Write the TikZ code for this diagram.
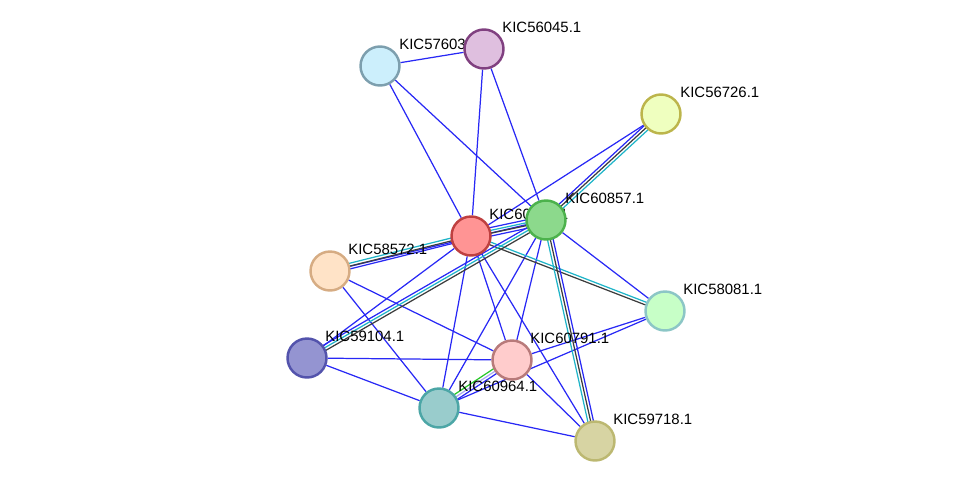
\documentclass[tikz,border=0pt]{standalone}
\usepackage{fontspec}
\setmainfont{Liberation Sans}
\usetikzlibrary{calc}
\usetikzlibrary{backgrounds}

\definecolor{ebl}{RGB}{40,40,245}
\definecolor{edk}{RGB}{60,60,60}
\definecolor{ecy}{RGB}{30,180,200}
\definecolor{egr}{RGB}{40,200,40}
\definecolor{elv}{RGB}{170,170,240}

\tikzset{
  prot/.style 2 args={circle, minimum size=0.78cm, inner sep=0pt, line width=1.4pt, fill=#1, draw=#2},
  lbl/.style={anchor=base west, inner sep=0pt, font=\fontsize{8.5}{10}\selectfont},
  edge/.style={ebl, line width=0.7pt},
}
\newcommand\multiedge[3]{%
  \foreach \off/\col [count=\i] in {#3} {
    \draw[\col, line width=0.7pt] ($(#1)!\off pt!90:(#2)$) -- ($(#2)!\off pt!-90:(#1)$);
  }}

\begin{document}
\begin{tikzpicture}[x=0.02cm, y=-0.02cm]
\useasboundingbox (0,0) rectangle (976,487);

% proteins
\node[prot={cyan!20!white}{cyan!30!gray}] (A) at (380,66) {};
\node[prot={violet!25!white}{violet!50!gray}] (B) at (484,49) {};
\node[prot={lime!25!white}{olive!60!white}] (C) at (661,114) {};
\node[prot={red!42!white}{red!50!gray}] (R) at (471,236) {};
\node[prot={green!50!gray!60!white}{green!40!gray}] (G) at (546,220) {};
\node[prot={orange!22!white}{brown!65!white}] (P) at (330,271) {};
\node[prot={green!22!white}{teal!45!white}] (M) at (665,311) {};
\node[prot={blue!40!gray!60!white}{blue!35!gray}] (N) at (307,358) {};
\node[prot={red!20!white}{red!30!gray!80!white}] (K) at (512,360) {};
\node[prot={teal!40!white}{teal!70!white}] (T) at (439,408) {};
\node[prot={yellow!40!gray!60!white}{yellow!40!gray}] (Y) at (595,441) {};

\begin{scope}[on background layer]
% single links
\foreach \a/\b in {A/B, A/R, A/G, B/R, B/G, C/R, P/G, G/M, N/R,
                   R/K, R/T, R/Y, G/K, G/T, P/K, P/T, N/K, N/T,
                   K/M, T/M, K/Y, T/Y}
  \draw[edge] (\a) -- (\b);
% multiple evidence
\multiedge{C}{G}{-1.6/ebl, 0/edk, 1.6/ecy}
\multiedge{R}{G}{-2.4/ebl, -0.8/edk, 0.8/ecy, 2.4/ebl}
\multiedge{R}{P}{-1.6/ecy, 0/edk, 1.6/ebl}
\multiedge{R}{M}{-0.8/edk, 0.8/ecy}
\multiedge{N}{G}{-1.6/edk, 0/ecy, 1.6/ebl}
\multiedge{G}{Y}{-1.6/ecy, 0/edk, 1.6/ebl}
\multiedge{K}{T}{-1.6/egr, 0/elv, 1.6/ebl}
% labels
\node[lbl] at (399,49) {KIC57603.1};
\node[lbl] at (502,32) {KIC56045.1};
\node[lbl] at (680,97) {KIC56726.1};
\node[lbl] at (489,219) {KIC60589.1};
\node[lbl] at (565,203) {KIC60857.1};
\node[lbl] at (348,254) {KIC58572.1};
\node[lbl] at (683,294) {KIC58081.1};
\node[lbl] at (325,341) {KIC59104.1};
\node[lbl] at (530,343) {KIC60791.1};
\node[lbl] at (458,391) {KIC60964.1};
\node[lbl] at (613,424) {KIC59718.1};
\end{scope}

\end{tikzpicture}
\end{document}
